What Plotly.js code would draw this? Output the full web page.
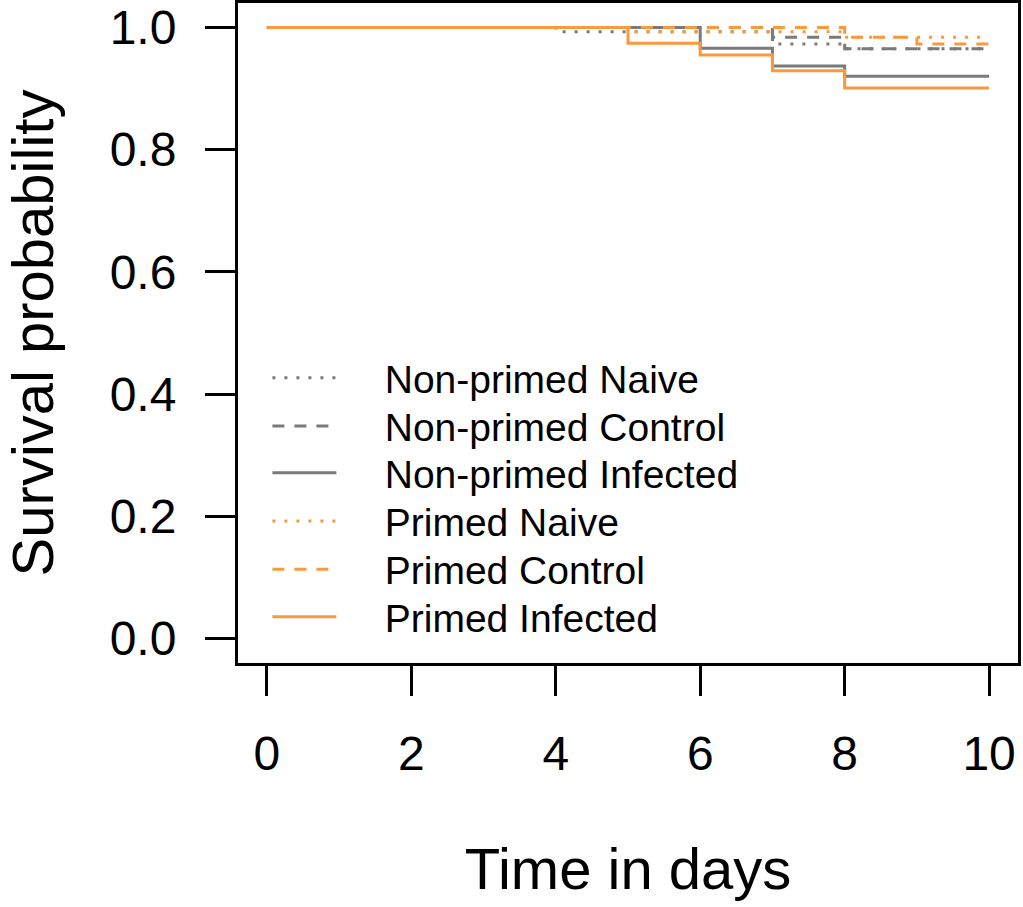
<!DOCTYPE html>
<html>
<head>
<meta charset="utf-8">
<script src="https://cdn.plot.ly/plotly-3.0.1.min.js"></script>
<style>
  html, body { margin: 0; padding: 0; background: #fff; }
  #chart { width: 1023px; height: 907px; }
</style>
</head>
<body>
<div id="chart"></div>
<script>
  "use strict";

  // Kaplan-Meier steps (time in days, survival).
  const npNaiveT = [0, 4, 7, 8, 10];
  const npNaiveS = [1, 0.993, 0.973, 0.965, 0.965];
  const npControlT = [0, 7, 8, 10];
  const npControlS = [1, 0.984, 0.965, 0.965];
  const npInfectedT = [0, 6, 7, 8, 10];
  const npInfectedS = [1, 0.966, 0.937, 0.920, 0.920];
  const pNaiveT = [0, 5, 8, 10];
  const pNaiveS = [1, 0.993, 0.984, 0.984];
  const pControlT = [0, 8, 9, 10];
  const pControlS = [1, 0.984, 0.973, 0.973];
  const pInfectedT = [0, 5, 6, 7, 8, 10];
  const pInfectedS = [1, 0.974, 0.955, 0.929, 0.901, 0.901];

  const groupNames = [
    "Non-primed Naive", "Non-primed Control", "Non-primed Infected",
    "Primed Naive", "Primed Control", "Primed Infected",
  ];
  const xTicks = [0, 2, 4, 6, 8, 10];
  const yTicks = [0, 0.2, 0.4, 0.6, 0.8, 1.0];

  const FONT = "Liberation Sans, Arial, sans-serif";
  const GREY = "#7a7a7a";
  const ORANGE = "#f79a3e";
  const DOT = "3px,9px";
  const DASH = "12px,10px";
  const PAD = "\u00a0\u00a0\u00a0\u00a0"; // gap between key line and label, as in R's legend()

  // One legend per row so the rows can sit at R's spacing.
  const legendRowsY = [0.432, 0.359, 0.288, 0.215, 0.142, 0.070];

  function step(i, x, y, color, dash) {
    return {
      type: "scatter", mode: "lines", name: PAD + groupNames[i], x, y,
      line: { color, width: 3, dash, shape: "hv" },
      legend: i === 0 ? "legend" : "legend" + (i + 1),
      hoverinfo: "skip",
    };
  }

  const traces = [
    step(0, npNaiveT, npNaiveS, GREY, DOT),
    step(1, npControlT, npControlS, GREY, DASH),
    step(2, npInfectedT, npInfectedS, GREY, "solid"),
    step(3, pNaiveT, pNaiveS, ORANGE, DOT),
    step(4, pControlT, pControlS, ORANGE, DASH),
    step(5, pInfectedT, pInfectedS, ORANGE, "solid"),
  ];

  const axisBase = {
    showgrid: false, zeroline: false,
    showline: true, linecolor: "#000", linewidth: 3, mirror: true,
    ticks: "outside", ticklen: 30, tickwidth: 3, tickcolor: "#000",
    tickfont: { family: FONT, size: 48, color: "#000" },
  };

  const layout = {
    width: 1023, height: 907,
    margin: { l: 238, r: 5, t: 3, b: 244 },
    paper_bgcolor: "#fff", plot_bgcolor: "#fff",
    font: { family: FONT, color: "#000" },
    showlegend: true,
    xaxis: Object.assign({}, axisBase, {
      range: [-0.4, 10.4], tickvals: xTicks, ticktext: xTicks.map(String),
      ticklabelstandoff: 16,
      title: { text: "Time in days", font: { family: FONT, size: 58 }, standoff: 70 },
    }),
    yaxis: Object.assign({}, axisBase, {
      range: [-0.04, 1.04], tickvals: yTicks, ticktext: yTicks.map((v) => v.toFixed(1)),
      ticklabelstandoff: 19,
      title: { text: "Survival probability", font: { family: FONT, size: 58 }, standoff: 43 },
    }),
  };

  legendRowsY.forEach((y, i) => {
    layout[i === 0 ? "legend" : "legend" + (i + 1)] = {
      x: 0.0377, y, xanchor: "left", yanchor: "middle",
      bgcolor: "rgba(0,0,0,0)", borderwidth: 0,
      font: { family: FONT, size: 39, color: "#000" },
      itemwidth: 64,
    };
  });

  Plotly.newPlot("chart", traces, layout, { staticPlot: true, displayModeBar: false });
</script>
</body>
</html>
